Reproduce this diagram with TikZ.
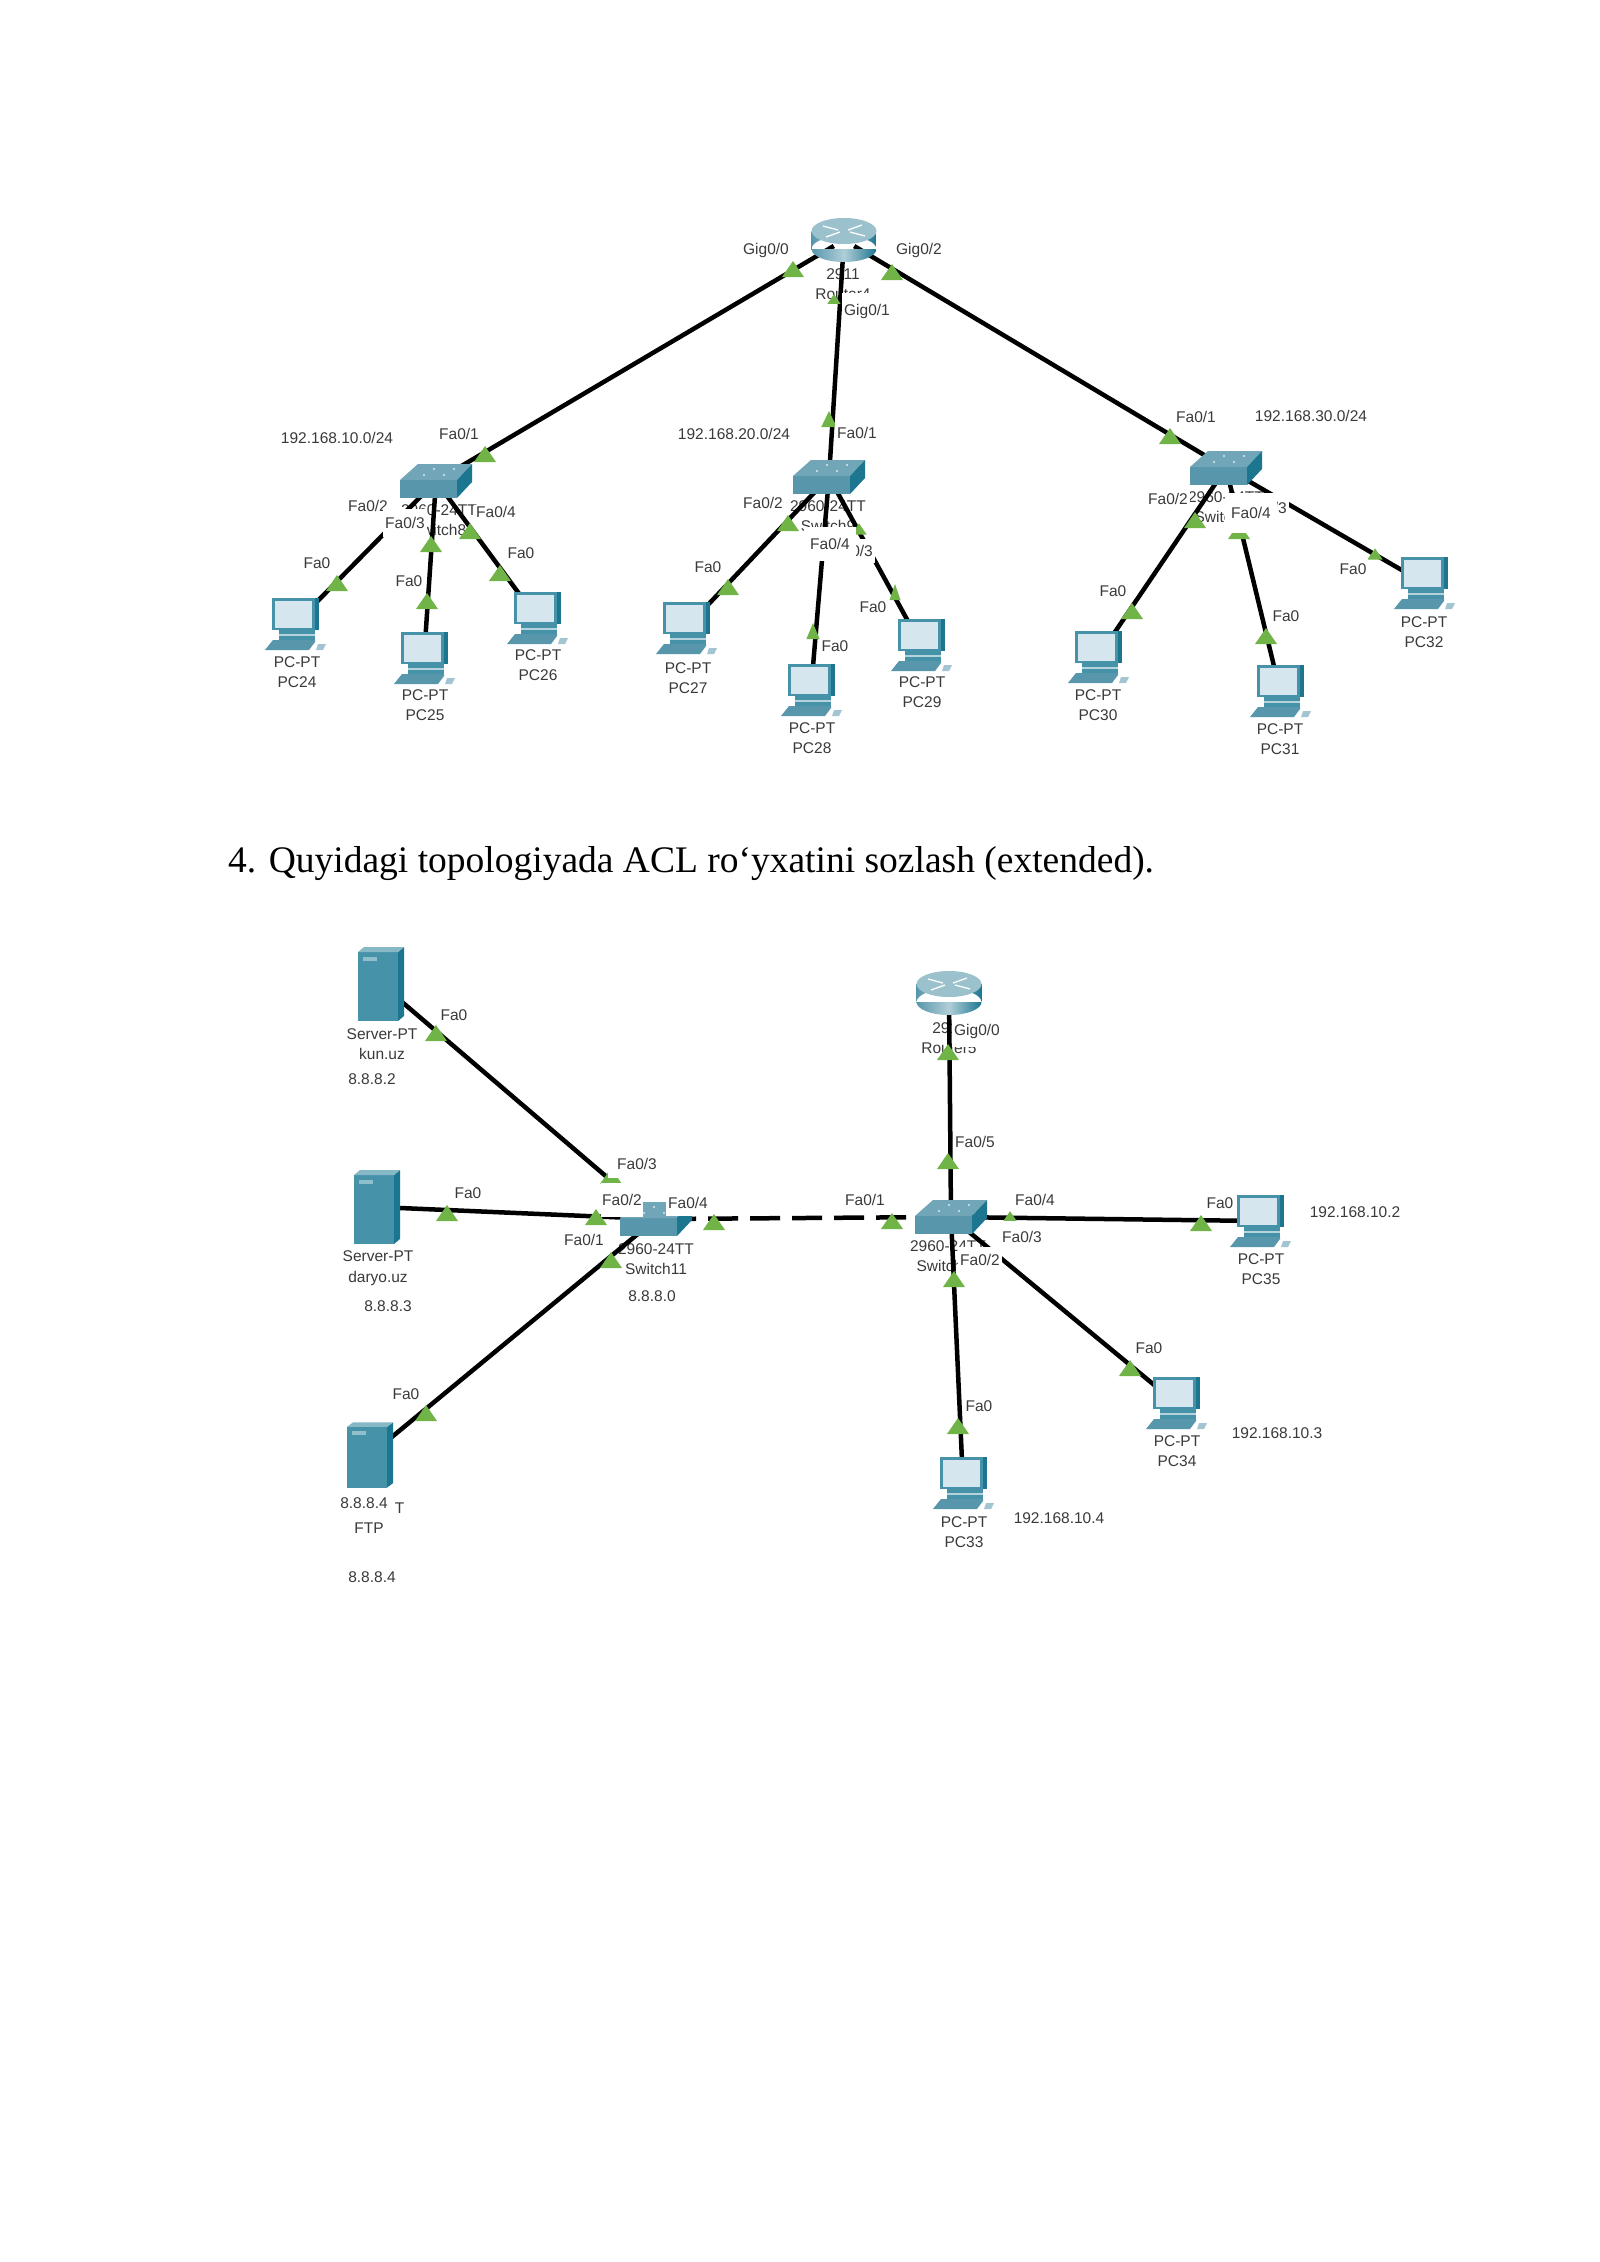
\documentclass[tikz,border=0pt]{standalone}
\usepackage{fontspec}
\setmainfont{Liberation Sans}
\newfontfamily\headfont{Liberation Serif}
\usetikzlibrary{calc}
\definecolor{portgreen}{RGB}{112,180,72}
\definecolor{tealfront}{RGB}{88,150,172}
\definecolor{tealtop}{RGB}{112,166,184}
\definecolor{tealside}{RGB}{28,118,144}
\definecolor{tealbody}{RGB}{70,146,168}
\definecolor{screenblue}{RGB}{214,230,238}
\definecolor{labelgrey}{RGB}{58,58,58}

\begin{document}
\begin{tikzpicture}[
  x=1pt, y=-1pt,
  devbox/.style={inner sep=0pt, minimum width=20pt, minimum height=20pt},
  devlabel/.style={font=\fontsize{15.5}{20.5}\selectfont, text=labelgrey, align=center, inner sep=0pt},
  portlabel/.style={font=\fontsize{15.5}{18}\selectfont, text=labelgrey, fill=white, inner xsep=2pt, inner ysep=5pt},
  netlabel/.style={font=\fontsize{15.5}{18}\selectfont, text=labelgrey, inner sep=0pt},
  headline/.style={font=\headfont\fontsize{37.5}{44}\selectfont, text=black, anchor=west, inner sep=0pt},
  link/.style={draw=black, line width=4.5pt},
  portmark/.pic={\fill[portgreen] (-11,8) -- (11,8) -- (0,-8) -- cycle;},
  switchicon/.pic={
    \fill[tealfront] (-36,-1) -- (21,-1) -- (21,17) -- (-36,17) -- cycle;
    \fill[tealtop] (-36,-1) -- (-18,-17) -- (36,-17) -- (21,-1) -- cycle;
    \fill[tealside] (21,-1) -- (36,-17) -- (36,1) -- (21,17) -- cycle;
    \fill[white!75!tealtop] (-12,-6) circle (1.2) (-2,-12) circle (1.2) (8,-6) circle (1.2) (18,-12) circle (1.2);
  },
  routericon/.pic={
    \path[left color=tealfront, right color=tealside, middle color=white!45!tealtop]
      (-32.5,-9) rectangle (32.5,9) (0,9) ellipse [x radius=32.5, y radius=13];
    \fill[white!30!tealtop] (0,-9) ellipse [x radius=32.5, y radius=13];
    \draw[white, line width=1.3pt] (-21,-14) -- (-6,-10) (21,-4) -- (6,-8) (-18,-3) -- (-4,-8) (18,-15) -- (4,-10);
  },
  pcicon/.pic={
    \fill[tealside] (-23,-26) -- (24,-26) -- (24,6) -- (-23,6) -- cycle;
    \fill[tealbody] (-23,-26) -- (20,-26) -- (20,6) -- (-23,6) -- cycle;
    \fill[screenblue] (-20,-23) rectangle (17,4);
    \fill[tealbody] (-16,6) rectangle (20,16);
    \fill[white!60!tealbody] (-16,10) rectangle (20,12);
    \fill[tealfront] (-22,16) -- (20,16) -- (20,18) -- (14,26) -- (-30,26) -- cycle;
    \fill[white!45!tealfront] (23,20) -- (31,20) -- (28,26) -- (21,26) -- cycle;
  },
  servericon/.pic={
    \fill[tealbody] (-23,-32) rectangle (17,37);
    \fill[tealside] (17,-32) -- (23,-37) -- (23,32) -- (17,37) -- cycle;
    \fill[white!35!tealbody] (-23,-32) -- (-17,-37) -- (23,-37) -- (17,-32) -- cycle;
    \fill[white!40!tealbody] (-18,-27) rectangle (-4,-23);
  }
]
  \useasboundingbox (0,0) rectangle (1600,2262);
  \fill[white] (0,0) rectangle (1600,2262);

  \node[headline] (taskline) at (228,864) {4. Quyidagi topologiyada ACL ro‘yxatini sozlash (extended).};

  % device captions sit under the cables
  \node[devlabel] (rtr4txt) at (843,284) {2911\\Router4};
  \node[devlabel] (sw8txt) at (439,520) {2960-24TT\\Switch8};
  \node[devlabel] (sw9txt) at (828,516) {2960-24TT\\Switch9};
  \node[devlabel] (sw10txt) at (1226,507) {2960-24TT\\Switch10};
  \node[devlabel] (pc24txt) at (297,672) {PC-PT\\PC24};
  \node[devlabel] (pc25txt) at (425,705) {PC-PT\\PC25};
  \node[devlabel] (pc26txt) at (538,665) {PC-PT\\PC26};
  \node[devlabel] (pc27txt) at (688,678) {PC-PT\\PC27};
  \node[devlabel] (pc28txt) at (812,738) {PC-PT\\PC28};
  \node[devlabel] (pc29txt) at (922,692) {PC-PT\\PC29};
  \node[devlabel] (pc30txt) at (1098,705) {PC-PT\\PC30};
  \node[devlabel] (pc31txt) at (1280,739) {PC-PT\\PC31};
  \node[devlabel] (pc32txt) at (1424,632) {PC-PT\\PC32};
  \node[devlabel] (rtr5txt) at (949,1038) {2911\\Router5};
  \node[devlabel] (sw11txt) at (656,1259) {2960-24TT\\Switch11};
  \node[devlabel] (sw12txt) at (948,1256) {2960-24TT\\Switch12};
  \node[devlabel] (srv1txt) at (382,1044) {Server-PT\\kun.uz};
  \node[devlabel] (srv2txt) at (378,1268) {Server-PT\\daryo.uz};
  \node[devlabel] (srv3txt) at (369,1518) {Server-PT\\FTP};
  \node[devlabel] (pc33txt) at (964,1532) {PC-PT\\PC33};
  \node[devlabel] (pc34txt) at (1177,1451) {PC-PT\\PC34};
  \node[devlabel] (pc35txt) at (1261,1269) {PC-PT\\PC35};

  \node[devbox] (rtr4) at (844,240) {};
  \node[devbox] (sw8) at (436,481) {};
  \node[devbox] (sw9) at (829,477) {};
  \node[devbox] (sw10) at (1226,468) {};
  \node[devbox] (pc24) at (295,624) {};
  \node[devbox] (pc25) at (424,658) {};
  \node[devbox] (pc26) at (537,618) {};
  \node[devbox] (pc27) at (686,628) {};
  \node[devbox] (pc28) at (811,690) {};
  \node[devbox] (pc29) at (921,645) {};
  \node[devbox] (pc30) at (1098,657) {};
  \node[devbox] (pc31) at (1280,691) {};
  \node[devbox] (pc32) at (1424,583) {};
  \node[devbox] (rtr5) at (949,993) {};
  \node[devbox] (sw11) at (656,1219) {};
  \node[devbox] (sw12) at (951,1217) {};
  \node[devbox] (srv1) at (381,984) {};
  \node[devbox] (srv2) at (377,1207) {};
  \node[devbox] (srv3) at (370,1455) {};
  \node[devbox] (pc33) at (963,1483) {};
  \node[devbox] (pc34) at (1176,1403) {};
  \node[devbox] (pc35) at (1260,1221) {};

  \draw[link] (rtr4) -- (sw8);
  \draw[link] (rtr4) -- (sw9);
  \draw[link] (rtr4) -- (sw10);
  \draw[link] (sw8) -- (pc24);
  \draw[link] (sw8) -- (pc25);
  \draw[link] (sw8) -- (pc26);
  \draw[link] (sw9) -- (pc27);
  \draw[link] (sw9) -- (pc28);
  \draw[link] (sw9) -- (pc29);
  \draw[link] (sw10) -- (pc30);
  \draw[link] (sw10) -- (pc31);
  \draw[link] (sw10) -- (pc32);
  \draw[link] (rtr5) -- (sw12);
  \draw[link] (sw11) -- (srv1);
  \draw[link] (sw11) -- (srv2);
  \draw[link] (sw11) -- (srv3);
  \draw[link, dash pattern=on 30pt off 12pt] (sw11) -- (sw12);
  \draw[link] (sw12) -- (pc33);
  \draw[link] (sw12) -- (pc34);
  \draw[link] (sw12) -- (pc35);

  % port lights
  \pic at (793,269) {portmark};
  \pic[scale=0.6] at (834,299) {portmark};
  \pic at (892,272) {portmark};
  \pic at (485,454) {portmark};
  \pic[xscale=0.7] at (829,419) {portmark};
  \pic at (1170,436) {portmark};
  \pic at (337,583) {portmark};
  \pic at (431,544) {portmark};
  \pic at (427,601) {portmark};
  \pic at (470,531) {portmark};
  \pic at (500,573) {portmark};
  \pic at (788,523) {portmark};
  \pic at (728,587) {portmark};
  \pic[xscale=0.6] at (813,631) {portmark};
  \pic[scale=0.7] at (859,529) {portmark};
  \pic[xscale=0.5] at (895,592) {portmark};
  \pic at (1195,520) {portmark};
  \pic at (1132,611) {portmark};
  \pic at (1239,531) {portmark};
  \pic at (1266,636) {portmark};
  \pic[scale=0.7] at (1375,554) {portmark};
  \pic at (436,1033) {portmark};
  \pic at (447,1213) {portmark};
  \pic at (426,1413) {portmark};
  \pic at (611,1176) {portmark};
  \pic at (596,1217) {portmark};
  \pic at (611,1260) {portmark};
  \pic at (714,1222) {portmark};
  \pic at (948,1052) {portmark};
  \pic at (948,1161) {portmark};
  \pic at (892,1221) {portmark};
  \pic[scale=0.6] at (1010,1216) {portmark};
  \pic at (1201,1223) {portmark};
  \pic at (954,1279) {portmark};
  \pic at (958,1426) {portmark};
  \pic at (1130,1368) {portmark};

  \pic at (rtr4) {routericon};
  \pic at (sw8) {switchicon};
  \pic at (sw9) {switchicon};
  \pic at (sw10) {switchicon};
  \pic at (pc24) {pcicon};
  \pic at (pc25) {pcicon};
  \pic at (pc26) {pcicon};
  \pic at (pc27) {pcicon};
  \pic at (pc28) {pcicon};
  \pic at (pc29) {pcicon};
  \pic at (pc30) {pcicon};
  \pic at (pc31) {pcicon};
  \pic at (pc32) {pcicon};
  \pic at (rtr5) {routericon};
  \pic at (sw11) {switchicon};
  \pic at (sw12) {switchicon};
  \pic at (srv1) {servericon};
  \pic at (srv2) {servericon};
  \pic[yscale=0.88] at (srv3) {servericon};
  \pic at (pc33) {pcicon};
  \pic at (pc34) {pcicon};
  \pic at (pc35) {pcicon};

  % port names cover what lies behind them
  \node[portlabel] (rg0) at (766,250) {Gig0/0};
  \node[portlabel, inner ysep=11pt] (rg1) at (867,311) {Gig0/1};
  \node[portlabel] (rg2) at (919,250) {Gig0/2};
  \node[portlabel] (s8f1) at (459,434) {Fa0/1};
  \node[portlabel, inner ysep=1pt] (s8f2) at (368,506) {Fa0/2};
  \node[portlabel, inner ysep=8pt] (s8f3) at (405,523) {Fa0/3};
  \node[portlabel, inner ysep=1pt] (s8f4) at (496,512) {Fa0/4};
  \node[portlabel] (p24f) at (317,563) {Fa0};
  \node[portlabel] (p25f) at (409,581) {Fa0};
  \node[portlabel] (p26f) at (521,553) {Fa0};
  \node[portlabel] (s9f1) at (857,433) {Fa0/1};
  \node[portlabel, inner ysep=1pt] (s9f2) at (763,503) {Fa0/2};
  \node[portlabel, inner ysep=6pt] (s9f3) at (853,551) {Fa0/3};
  \node[portlabel, inner ysep=11pt, inner xsep=6pt] (s9f4) at (830,544) {Fa0/4};
  \node[portlabel] (p27f) at (708,567) {Fa0};
  \node[portlabel] (p28f) at (835,646) {Fa0};
  \node[portlabel] (p29f) at (873,607) {Fa0};
  \node[portlabel] (s10f1) at (1196,417) {Fa0/1};
  \node[portlabel, inner ysep=1pt] (s10f2) at (1168,499) {Fa0/2};
  \node[portlabel, inner ysep=8pt] (s10f3) at (1267,508) {Fa0/3};
  \node[portlabel, inner ysep=14pt, inner xsep=6pt] (s10f4) at (1251,513) {Fa0/4};
  \node[portlabel] (p30f) at (1113,591) {Fa0};
  \node[portlabel] (p31f) at (1286,616) {Fa0};
  \node[portlabel] (p32f) at (1353,569) {Fa0};
  \node[portlabel, inner ysep=9pt] (r5g0) at (977,1031) {Gig0/0};
  \node[portlabel] (s12f5) at (975,1142) {Fa0/5};
  \node[portlabel] (s12f1) at (865,1200) {Fa0/1};
  \node[portlabel, inner ysep=7pt] (s12f4) at (1035,1200) {Fa0/4};
  \node[portlabel, inner ysep=7pt] (s12f3) at (1022,1237) {Fa0/3};
  \node[portlabel, inner ysep=7pt] (s12f2) at (980,1260) {Fa0/2};
  \node[portlabel] (p35f) at (1220,1203) {Fa0};
  \node[portlabel] (p34f) at (1149,1348) {Fa0};
  \node[portlabel] (p33f) at (979,1406) {Fa0};
  \node[portlabel] (s1f) at (454,1015) {Fa0};
  \node[portlabel] (s2f) at (468,1193) {Fa0};
  \node[portlabel] (s3f) at (406,1394) {Fa0};
  \node[portlabel, inner xsep=9pt, inner ysep=8pt] (s11f3) at (637,1164) {Fa0/3};
  \node[portlabel, inner ysep=11pt, inner xsep=1pt] (s11f2) at (622,1200) {Fa0/2};
  \node[portlabel, inner ysep=7pt] (s11f4) at (688,1203) {Fa0/4};
  \node[portlabel] (s11f1) at (584,1240) {Fa0/1};

  \node[netlabel] (net10) at (337,438) {192.168.10.0/24};
  \node[netlabel] (net20) at (734,434) {192.168.20.0/24};
  \node[netlabel] (net30) at (1311,416) {192.168.30.0/24};
  \node[netlabel] (ip2) at (372,1079) {8.8.8.2};
  \node[netlabel] (ip3) at (388,1306) {8.8.8.3};
  \node[netlabel, fill=white, inner xsep=6pt, inner ysep=6pt] (ip4a) at (364,1503) {8.8.8.4};
  \node[netlabel] (ip4b) at (372,1577) {8.8.8.4};
  \node[netlabel] (ip0) at (652,1296) {8.8.8.0};
  \node[netlabel] (pc35ip) at (1355,1212) {192.168.10.2};
  \node[netlabel] (pc34ip) at (1277,1433) {192.168.10.3};
  \node[netlabel] (pc33ip) at (1059,1518) {192.168.10.4};
\end{tikzpicture}
\end{document}
